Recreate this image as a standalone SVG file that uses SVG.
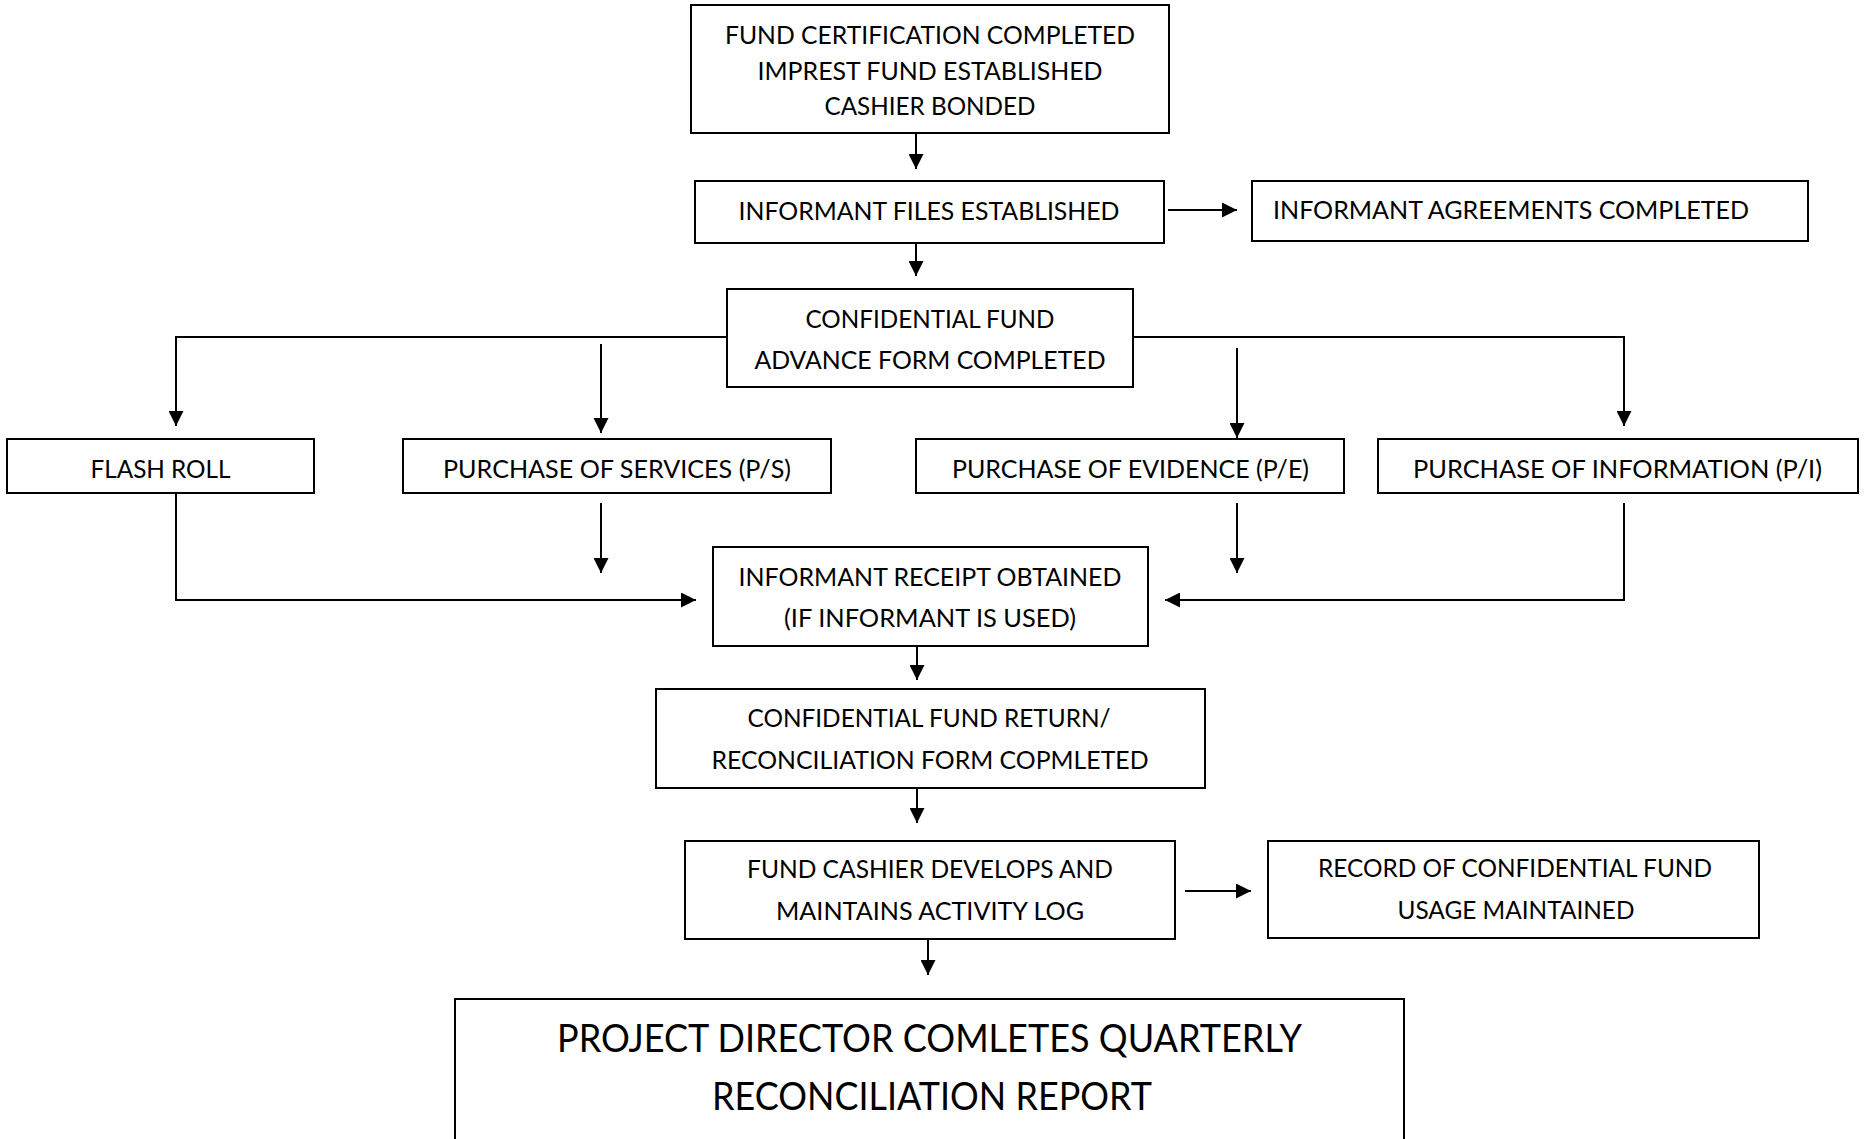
<svg xmlns="http://www.w3.org/2000/svg" width="1866" height="1139" viewBox="0 0 1866 1139">
<style>
.box{fill:#fff;stroke:#000;stroke-width:2}
.t{font-family:Lato,"Open Sans","Liberation Sans",sans-serif;font-size:25px;fill:#000}
.c{text-anchor:middle}
.big{font-size:38px}
.con{fill:none;stroke:#000;stroke-width:2}
</style>
<defs>
<marker id="ah" viewBox="0 0 10 10" refX="10" refY="5" markerWidth="15" markerHeight="15" markerUnits="userSpaceOnUse" orient="auto">
<path d="M0,0 L10,5 L0,10 z" fill="#000"/>
</marker>
</defs>
<rect width="1866" height="1139" fill="#fff"/>
<g id="connectors">
<line class="con" x1="916" y1="133" x2="916" y2="169" marker-end="url(#ah)"/>
<line class="con" x1="1168" y1="210" x2="1237" y2="210" marker-end="url(#ah)"/>
<line class="con" x1="916" y1="240" x2="916" y2="276" marker-end="url(#ah)"/>
<polyline class="con" points="727,337 176,337 176,426" marker-end="url(#ah)"/>
<line class="con" x1="601" y1="344" x2="601" y2="433" marker-end="url(#ah)"/>
<polyline class="con" points="1133,337 1624,337 1624,426" marker-end="url(#ah)"/>
<line class="con" x1="1237" y1="348" x2="1237" y2="438" marker-end="url(#ah)"/>
<polyline class="con" points="176,493 176,600 696,600" marker-end="url(#ah)"/>
<line class="con" x1="601" y1="503" x2="601" y2="573" marker-end="url(#ah)"/>
<line class="con" x1="1237" y1="503" x2="1237" y2="573" marker-end="url(#ah)"/>
<polyline class="con" points="1624,503 1624,600 1165,600" marker-end="url(#ah)"/>
<line class="con" x1="917" y1="646" x2="917" y2="680" marker-end="url(#ah)"/>
<line class="con" x1="917" y1="788" x2="917" y2="823" marker-end="url(#ah)"/>
<line class="con" x1="1185" y1="891" x2="1251" y2="891" marker-end="url(#ah)"/>
<line class="con" x1="928" y1="939" x2="928" y2="975" marker-end="url(#ah)"/>
</g>
<g id="n-fund-cert">
<rect class="box" x="691" y="5" width="478" height="128"/>
<text class="t c" x="930" y="44" textLength="410" lengthAdjust="spacingAndGlyphs">FUND CERTIFICATION COMPLETED</text>
<text class="t c" x="930" y="80" textLength="345" lengthAdjust="spacingAndGlyphs">IMPREST FUND ESTABLISHED</text>
<text class="t c" x="930" y="115" textLength="211" lengthAdjust="spacingAndGlyphs">CASHIER BONDED</text>
</g>
<g id="n-informant-files">
<rect class="box" x="695" y="181" width="469" height="62"/>
<text class="t c" x="929" y="220" textLength="381" lengthAdjust="spacingAndGlyphs">INFORMANT FILES ESTABLISHED</text>
</g>
<g id="n-agreements">
<rect class="box" x="1252" y="181" width="556" height="60"/>
<text class="t" x="1273" y="219" textLength="476" lengthAdjust="spacingAndGlyphs">INFORMANT AGREEMENTS COMPLETED</text>
</g>
<g id="n-advance">
<rect class="box" x="727" y="289" width="406" height="98"/>
<text class="t c" x="930" y="328" textLength="249" lengthAdjust="spacingAndGlyphs">CONFIDENTIAL FUND</text>
<text class="t c" x="930" y="369" textLength="351" lengthAdjust="spacingAndGlyphs">ADVANCE FORM COMPLETED</text>
</g>
<g id="n-flash-roll">
<rect class="box" x="7" y="439" width="307" height="54"/>
<text class="t c" x="160.5" y="478" textLength="140" lengthAdjust="spacingAndGlyphs">FLASH ROLL</text>
</g>
<g id="n-ps">
<rect class="box" x="403" y="439" width="428" height="54"/>
<text class="t c" x="617" y="478" textLength="348" lengthAdjust="spacingAndGlyphs">PURCHASE OF SERVICES (P/S)</text>
</g>
<g id="n-pe">
<rect class="box" x="916" y="439" width="428" height="54"/>
<text class="t c" x="1130.5" y="478" textLength="357" lengthAdjust="spacingAndGlyphs">PURCHASE OF EVIDENCE (P/E)</text>
</g>
<g id="n-pi">
<rect class="box" x="1378" y="439" width="480" height="54"/>
<text class="t c" x="1617.5" y="478" textLength="409" lengthAdjust="spacingAndGlyphs">PURCHASE OF INFORMATION (P/I)</text>
</g>
<g id="n-receipt">
<rect class="box" x="713" y="547" width="435" height="99"/>
<text class="t c" x="930" y="586" textLength="383" lengthAdjust="spacingAndGlyphs">INFORMANT RECEIPT OBTAINED</text>
<text class="t c" x="930" y="627" textLength="292" lengthAdjust="spacingAndGlyphs">(IF INFORMANT IS USED)</text>
</g>
<g id="n-return">
<rect class="box" x="656" y="689" width="549" height="99"/>
<text class="t c" x="929" y="727" textLength="363" lengthAdjust="spacingAndGlyphs">CONFIDENTIAL FUND RETURN/</text>
<text class="t c" x="930" y="769" textLength="437" lengthAdjust="spacingAndGlyphs">RECONCILIATION FORM COPMLETED</text>
</g>
<g id="n-cashier">
<rect class="box" x="685" y="841" width="490" height="98"/>
<text class="t c" x="930" y="878" textLength="366" lengthAdjust="spacingAndGlyphs">FUND CASHIER DEVELOPS AND</text>
<text class="t c" x="930" y="920" textLength="308" lengthAdjust="spacingAndGlyphs">MAINTAINS ACTIVITY LOG</text>
</g>
<g id="n-record">
<rect class="box" x="1268" y="841" width="491" height="97"/>
<text class="t c" x="1515" y="877" textLength="394" lengthAdjust="spacingAndGlyphs">RECORD OF CONFIDENTIAL FUND</text>
<text class="t c" x="1516" y="919" textLength="237" lengthAdjust="spacingAndGlyphs">USAGE MAINTAINED</text>
</g>
<g id="n-quarterly">
<rect class="box" x="455" y="999" width="949" height="200"/>
<text class="t c big" x="929.5" y="1052" textLength="745" lengthAdjust="spacingAndGlyphs">PROJECT DIRECTOR COMLETES QUARTERLY</text>
<text class="t c big" x="932" y="1110" textLength="440" lengthAdjust="spacingAndGlyphs">RECONCILIATION REPORT</text>
</g>
</svg>
